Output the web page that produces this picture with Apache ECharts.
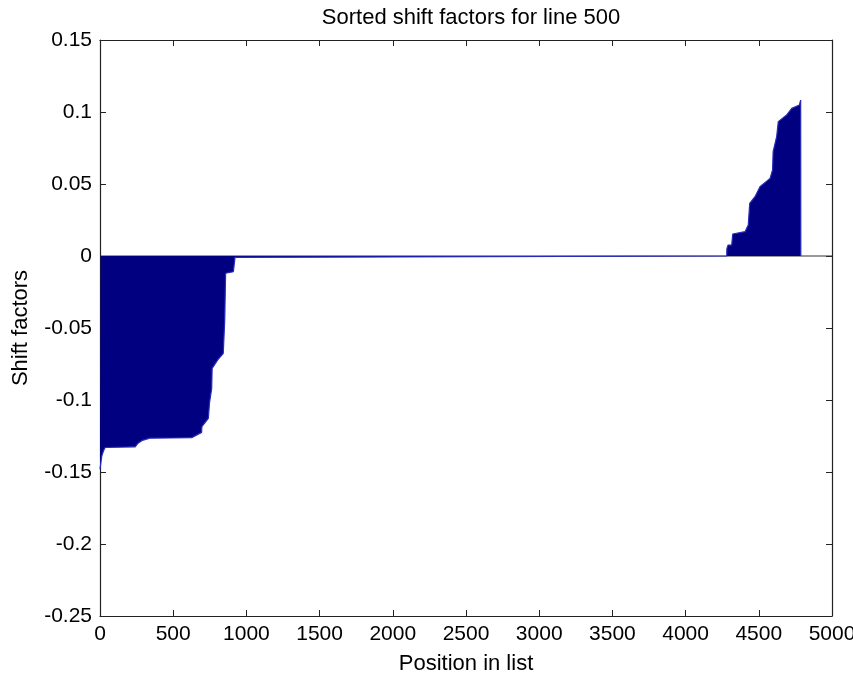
<!DOCTYPE html>
<html>
<head>
<meta charset="utf-8">
<title>Sorted shift factors for line 500</title>
<script src="https://cdn.jsdelivr.net/npm/echarts@6/dist/echarts.min.js"></script>
<style>
  html, body { margin: 0; padding: 0; background: #fff; }
  #chart { width: 853px; height: 675px; }
</style>
</head>
<body>
<div id="chart"></div>
<script>
// sorted shift factors, traced as breakpoints (position in list, value)
const positions = [
  0, 4, 12, 25, 35, 240, 260, 290, 340, 626, 694, 696, 740, 748, 763, 766, 804, 842, 852, 858, 911, 922, 925,
  4281, 4282, 4290, 4315, 4322, 4406, 4428, 4438, 4474, 4508, 4577, 4594, 4598, 4622, 4633, 4690, 4725, 4777, 4786, 4787
];
const shiftValues = [
  -0.148, -0.145, -0.139, -0.135, -0.133, -0.1325, -0.130, -0.128, -0.1265, -0.1262, -0.1225, -0.1185, -0.1127, -0.102, -0.092, -0.078, -0.0722, -0.0676, -0.0444, -0.012, -0.0109, -0.001, 0,
  0, 0.005, 0.0076, 0.0076, 0.0153, 0.0169, 0.0215, 0.0366, 0.0412, 0.0481, 0.0539, 0.0597, 0.0725, 0.0829, 0.0933, 0.0979, 0.1025, 0.1049, 0.1083, 0
];
const baselineX = [0, 5000];

const xMin = 0, xMax = 5000, xStep = 500;
const yMin = -0.25, yMax = 0.15, yStep = 0.05;

const font = 'Arial, "Liberation Sans", Helvetica, sans-serif';
const tickSize = 21;
const textSize = 22;

const chart = echarts.init(document.getElementById('chart'));

function boxAxis(pos, isX, showLabel) {
  return {
    type: 'value',
    position: pos,
    min: isX ? xMin : yMin,
    max: isX ? xMax : yMax,
    interval: isX ? xStep : yStep,
    splitLine: { show: false },
    axisLine: { show: true, onZero: false, lineStyle: { color: '#222', width: 1.2 } },
    axisTick: { show: true, inside: true, length: 6, lineStyle: { color: '#222' } },
    axisLabel: {
      show: showLabel,
      color: '#000',
      fontFamily: font,
      fontSize: tickSize,
      margin: 8,
      formatter: v => String(+v.toFixed(4))
    }
  };
}

const xBottom = Object.assign(boxAxis('bottom', true, true), {
  name: 'Position in list',
  nameLocation: 'middle',
  nameGap: 37,
  nameTextStyle: { color: '#000', fontFamily: font, fontSize: textSize }
});
const yLeft = Object.assign(boxAxis('left', false, true), {
  name: 'Shift factors',
  nameLocation: 'middle',
  nameGap: 68,
  nameTextStyle: { color: '#000', fontFamily: font, fontSize: textSize }
});

chart.setOption({
  animation: false,
  backgroundColor: '#fff',
  title: {
    text: 'Sorted shift factors for line 500',
    left: 466,
    textAlign: 'center',
    top: 2,
    textStyle: { color: '#000', fontFamily: font, fontSize: textSize, fontWeight: 'normal' }
  },
  grid: { left: 100, right: 21, top: 40, bottom: 59, containLabel: false, outerBoundsMode: 'none' },
  xAxis: [xBottom, boxAxis('top', true, false)],
  yAxis: [yLeft, boxAxis('right', false, false)],
  series: [
    {
      name: 'baseline',
      type: 'line',
      z: 1,
      symbol: 'none',
      silent: true,
      lineStyle: { color: '#333', width: 1 },
      data: baselineX.map(x => [x, 0])
    },
    {
      name: 'shift factors',
      type: 'line',
      z: 2,
      symbol: 'none',
      lineStyle: { color: '#2a2ab8', width: 1.2 },
      areaStyle: { color: '#000080', opacity: 1, origin: 0 },
      data: positions.map((p, i) => [p, shiftValues[i]])
    }
  ]
});
</script>
</body>
</html>
